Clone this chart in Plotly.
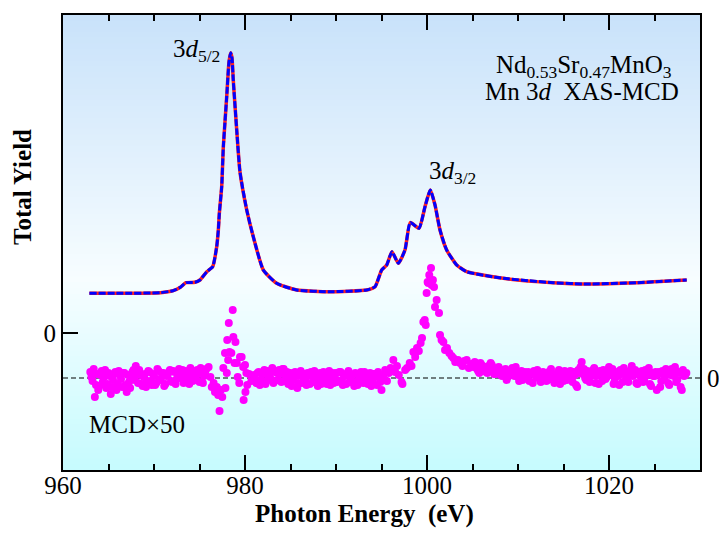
import plotly.graph_objects as go

# ---------------- data ----------------
# Total-yield XAS spectrum (arbitrary units, left axis)
xas_e = [962.9, 966.3, 970.7, 972.1, 972.9, 973.5, 974.5, 975.05, 975.8, 976.45,
         976.89, 977.07, 977.18, 977.44, 977.62, 977.99, 978.24, 978.43, 978.57, 978.71,
         979.09, 979.45, 980.19, 980.91, 982.01, 983.48, 985.68, 989.34, 993.37, 994.29,
         995.02, 995.57, 996.15, 996.85, 997.58, 998.16, 999.12, 999.78, 1000.36, 1000.88,
         1001.43, 1002.16, 1003.26, 1004.36, 1008.38, 1013.88, 1017.55, 1023.05, 1028.54]
xas_y = [0.397, 0.397, 0.403, 0.423, 0.457, 0.503, 0.507, 0.53, 0.613, 0.663,
         0.863, 1.03, 1.197, 1.463, 1.863, 2.363, 2.71, 2.803, 2.75, 2.53,
         2.03, 1.61, 1.23, 0.963, 0.63, 0.497, 0.43, 0.413, 0.43, 0.463,
         0.63, 0.68, 0.813, 0.697, 0.83, 1.105, 1.047, 1.263, 1.43, 1.28,
         1.03, 0.83, 0.68, 0.613, 0.547, 0.503, 0.49, 0.503, 0.53]

# MCD x50 (right axis), read segment by segment
mcd_e_a = [963.00, 963.25, 963.50, 963.75, 964.00, 964.25, 964.50, 964.75, 965.00, 965.25,
           965.50, 965.75, 966.00, 966.25, 966.50, 966.75, 967.00, 967.25, 967.50, 967.75,
           968.00, 968.25, 968.50, 968.75, 969.00, 969.25, 969.50, 969.75, 970.00, 970.25,
           970.50, 970.75, 971.00, 971.25, 971.50, 971.75, 972.00, 972.25, 972.50, 972.75,
           973.00, 973.25, 973.50, 973.75, 974.00, 974.25, 974.50, 974.75, 975.00, 975.25,
           975.50, 975.75]
mcd_v_a = [0.06, -0.03, -0.19, 0.04, -0.08, 0.07, 0.01, -0.10, 0.05, -0.16,
           -0.02, 0.06, -0.06, 0.03, -0.09, 0.05, -0.14, -0.04, 0.02, 0.08,
           0.12, -0.05, 0.03, -0.08, 0.04, -0.03, 0.06, -0.07, 0.02, -0.05,
           0.07, -0.02, 0.05, -0.06, 0.03, 0.08, -0.04, 0.06, -0.01, 0.09,
           0.02, -0.05, 0.07, 0.01, 0.10, -0.03, 0.05, 0.08, -0.04, 0.06,
           0.02, 0.09]
mcd_e_a2 = [963.125, 963.375, 963.625, 963.875, 964.125, 964.375, 964.625, 964.875, 965.125, 965.375,
            965.625, 965.875, 966.125, 966.375, 966.625, 966.875, 967.125, 967.375, 967.625, 967.875,
            968.125, 968.375, 968.625, 968.875, 969.125, 969.375, 969.625, 969.875, 970.125, 970.375,
            970.625, 970.875, 971.125, 971.375, 971.625, 971.875, 972.125, 972.375, 972.625, 972.875,
            973.125, 973.375, 973.625, 973.875, 974.125, 974.375, 974.625, 974.875, 975.125, 975.375,
            975.625]
mcd_v_a2 = [0.01, 0.09, -0.07, -0.12, 0.03, -0.04, 0.08, -0.06, 0.02, -0.09,
            0.04, -0.12, 0.07, -0.01, 0.05, -0.07, 0.03, -0.10, 0.06, -0.02,
            0.04, 0.08, -0.06, 0.01, -0.09, 0.07, -0.03, 0.04, -0.07, 0.09,
            -0.01, 0.05, -0.08, 0.02, 0.06, -0.03, 0.07, -0.06, 0.04, 0.01,
            0.08, -0.02, 0.05, -0.06, 0.03, 0.07, -0.02, 0.04, 0.10, -0.05,
            0.06]

mcd_e_b = [976.0, 976.2, 976.35, 976.55, 976.7, 976.9, 977.05, 977.2, 977.35, 977.5,
           977.62, 977.8, 977.85, 978.0, 978.05, 978.15, 978.22, 978.3, 978.5, 978.65,
           978.72, 978.85, 978.95, 979.1, 979.2, 979.37, 979.45, 979.63, 979.8, 979.85,
           980.0, 980.05, 980.15, 980.25, 980.45, 980.7]
mcd_v_b = [0.11, 0.01, -0.09, -0.05, -0.14, -0.09, -0.17, -0.33, -0.12, -0.19,
           0.10, 0.25, -0.10, 0.05, 0.38, 0.18, 0.55, 0.26, 0.25, 0.68,
           0.41, 0.15, 0.36, 0.15, 0.01, -0.05, 0.21, 0.21, 0.11, -0.22,
           0.13, -0.14, 0.05, -0.07, 0.04, -0.03]

mcd_e_c = [981.00, 981.25, 981.50, 981.75, 982.00, 982.25, 982.50, 982.75, 983.00, 983.25,
           983.50, 983.75, 984.00, 984.25, 984.50, 984.75, 985.00, 985.25, 985.50, 985.75,
           986.00, 986.25, 986.50, 986.75, 987.00, 987.25, 987.50, 987.75, 988.00, 988.25,
           988.50, 988.75, 989.00, 989.25, 989.50, 989.75, 990.00, 990.25, 990.50, 990.75,
           991.00, 991.25, 991.50, 991.75, 992.00, 992.25, 992.50, 992.75, 993.00, 993.25,
           993.50, 993.75, 994.00, 994.25, 994.50, 994.75]
mcd_v_c = [0.03, -0.05, 0.06, -0.02, 0.04, -0.06, 0.07, 0.01, 0.10, -0.03,
           0.05, 0.08, -0.04, 0.09, 0.02, -0.06, 0.05, -0.02, 0.06, -0.10,
           0.03, -0.05, 0.04, -0.07, 0.02, 0.06, -0.04, 0.03, -0.08, 0.05,
           -0.02, 0.04, -0.06, 0.07, 0.00, -0.05, 0.05, -0.03, 0.06, -0.07,
           0.02, 0.05, -0.04, 0.03, -0.08, 0.04, -0.02, 0.06, -0.05, 0.03,
           -0.06, 0.05, -0.03, 0.04, -0.07, 0.02]
mcd_e_c2 = [981.125, 981.375, 981.625, 981.875, 982.125, 982.375, 982.625, 982.875, 983.125, 983.375,
            983.625, 983.875, 984.125, 984.375, 984.625, 984.875, 985.125, 985.375, 985.625, 985.875,
            986.125, 986.375, 986.625, 986.875, 987.125, 987.375, 987.625, 987.875, 988.125, 988.375,
            988.625, 988.875, 989.125, 989.375, 989.625, 989.875, 990.125, 990.375, 990.625, 990.875,
            991.125, 991.375, 991.625, 991.875, 992.125, 992.375, 992.625, 992.875, 993.125, 993.375,
            993.625, 993.875, 994.125, 994.375, 994.625, 994.875]
mcd_v_c2 = [-0.02, 0.05, -0.07, 0.04, 0.08, -0.03, 0.02, 0.06, -0.05, 0.07,
            -0.02, 0.04, 0.09, -0.03, 0.06, 0.01, -0.08, 0.04, 0.02, -0.05,
            0.07, 0.01, -0.03, 0.05, -0.06, 0.02, 0.07, -0.02, 0.04, -0.06,
            0.06, -0.01, 0.03, -0.07, 0.05, 0.02, -0.04, 0.06, -0.02, 0.03,
            -0.06, 0.07, 0.00, -0.04, 0.05, -0.07, 0.03, -0.01, 0.06, -0.04,
            0.02, -0.08, 0.04, 0.01, 0.06, -0.04]

mcd_e_d = [995.0, 995.2, 995.4, 995.6, 995.8, 996.0, 996.3, 996.5, 996.7, 996.9,
           997.2, 997.3, 997.6, 997.8, 998.1, 998.3, 998.5, 998.7, 998.9, 999.1,
           999.3, 999.45, 999.6, 999.75, 999.86, 999.96, 1000.07, 1000.14, 1000.25, 1000.44,
           1000.51, 1000.65, 1000.77, 1000.88, 1001.06, 1001.32, 1001.43, 1001.6, 1001.8, 1001.98,
           1002.2, 1002.45, 1002.7, 1002.89, 1003.1, 1003.4, 1003.63, 1003.9, 1004.1, 1004.36,
           1004.6, 1004.85, 1005.09]
mcd_v_d = [-0.12, 0.02, 0.08, -0.03, 0.05, 0.10, 0.18, 0.06, 0.12, 0.03,
           -0.04, -0.06, 0.08, 0.10, 0.15, 0.12, 0.26, 0.21, 0.30, 0.27,
           0.35, 0.40, 0.56, 0.58, 0.53, 0.85, 0.96, 0.95, 1.03, 1.10,
           0.93, 0.98, 0.91, 0.71, 0.78, 0.65, 0.43, 0.38, 0.36, 0.28,
           0.30, 0.25, 0.22, 0.20, 0.16, 0.18, 0.15, 0.12, 0.17, 0.18,
           0.10, 0.14, 0.11]

mcd_e_e = [1005.25, 1005.50, 1005.75, 1006.00, 1006.25, 1006.50, 1006.75, 1007.00, 1007.25, 1007.50,
           1007.75, 1008.00, 1008.25, 1008.50, 1008.75, 1009.00, 1009.25, 1009.50, 1009.75, 1010.00,
           1010.25, 1010.50, 1010.75, 1011.00, 1011.25, 1011.50, 1011.75, 1012.00, 1012.25, 1012.50,
           1012.75, 1013.00, 1013.25, 1013.50, 1013.75, 1014.00, 1014.25, 1014.50, 1014.75, 1015.00,
           1015.25, 1015.50, 1015.75, 1016.00, 1016.25, 1016.50, 1016.75, 1017.00, 1017.25, 1017.50,
           1017.75, 1018.00, 1018.25, 1018.50, 1018.75, 1019.00, 1019.25, 1019.50, 1019.75, 1020.00,
           1020.25, 1020.50, 1020.75, 1021.00, 1021.25, 1021.50, 1021.75, 1022.00, 1022.25, 1022.50,
           1022.75, 1023.00, 1023.25, 1023.50, 1023.75, 1024.00, 1024.25, 1024.50, 1024.75, 1025.00,
           1025.25, 1025.50, 1025.75, 1026.00, 1026.25, 1026.50, 1026.75, 1027.00, 1027.25, 1027.50,
           1027.75, 1028.00, 1028.25, 1028.50]
mcd_v_e = [0.16, 0.09, 0.05, 0.13, 0.10, 0.06, 0.12, 0.15, 0.07, 0.04,
           0.10, 0.06, 0.02, 0.08, -0.02, 0.05, 0.03, 0.07, 0.11, 0.01,
           0.04, -0.02, 0.06, 0.02, -0.03, 0.05, 0.07, 0.01, 0.04, -0.04,
           0.06, 0.02, -0.02, 0.05, 0.03, -0.05, 0.04, 0.08, 0.01, -0.03,
           0.05, 0.02, 0.07, -0.04, 0.03, -0.09, 0.05, 0.16, 0.09, -0.02,
           0.06, 0.02, 0.08, -0.05, 0.04, 0.07, -0.03, 0.05, 0.01, 0.11,
           0.03, -0.06, 0.06, 0.02, 0.08, -0.04, 0.05, 0.00, 0.07, 0.12,
           0.03, -0.05, 0.06, 0.01, -0.04, 0.08, 0.03, -0.06, 0.05, 0.02,
           -0.12, 0.06, -0.03, 0.04, 0.09, -0.05, 0.03, 0.07, 0.11, -0.02,
           0.05, -0.12, 0.02, 0.05]
mcd_e_e2 = [1005.375, 1005.625, 1005.875, 1006.125, 1006.375, 1006.625, 1006.875, 1007.125, 1007.375, 1007.625,
            1007.875, 1008.125, 1008.375, 1008.625, 1008.875, 1009.125, 1009.375, 1009.625, 1009.875, 1010.125,
            1010.375, 1010.625, 1010.875, 1011.125, 1011.375, 1011.625, 1011.875, 1012.125, 1012.375, 1012.625,
            1012.875, 1013.125, 1013.375, 1013.625, 1013.875, 1014.125, 1014.375, 1014.625, 1014.875, 1015.125,
            1015.375, 1015.625, 1015.875, 1016.125, 1016.375, 1016.625, 1016.875, 1017.125, 1017.375, 1017.625,
            1017.875, 1018.125, 1018.375, 1018.625, 1018.875, 1019.125, 1019.375, 1019.625, 1019.875, 1020.125,
            1020.375, 1020.625, 1020.875, 1021.125, 1021.375, 1021.625, 1021.875, 1022.125, 1022.375, 1022.625,
            1022.875, 1023.125, 1023.375, 1023.625, 1023.875, 1024.125, 1024.375, 1024.625, 1024.875, 1025.125,
            1025.375, 1025.625, 1025.875, 1026.125, 1026.375, 1026.625, 1026.875, 1027.125, 1027.375, 1027.625,
            1027.875, 1028.125, 1028.375]
mcd_v_e2 = [0.12, 0.07, 0.15, 0.08, 0.11, 0.05, 0.09, 0.13, 0.04, 0.08,
            0.11, 0.03, 0.06, 0.09, 0.01, 0.06, 0.10, 0.02, 0.05, -0.03,
            0.07, 0.03, 0.00, 0.06, 0.04, -0.05, 0.03, 0.08, -0.01, 0.05,
            0.02, -0.03, 0.06, 0.09, -0.02, 0.04, 0.01, -0.06, 0.05, 0.07,
            -0.02, 0.04, 0.01, 0.06, -0.07, 0.08, 0.11, 0.04, 0.00, 0.07,
            -0.04, 0.05, 0.10, 0.02, -0.06, 0.04, 0.08, -0.01, 0.06, 0.03,
            0.09, -0.03, 0.05, -0.07, 0.04, 0.10, 0.01, -0.04, 0.06, 0.02,
            0.08, -0.06, 0.03, 0.07, -0.02, 0.05, 0.10, -0.08, 0.02, 0.06,
            0.04, -0.09, 0.07, 0.01, 0.05, -0.07, 0.09, 0.02, -0.04, 0.06,
            -0.09, 0.08, 0.03]

x_ticks = [960, 980, 1000, 1020]
x_range = [960, 1030]
y_range = [-1.37, 3.18]
y2_range = [-0.92, 3.63]

segments = [(mcd_e_a, mcd_v_a), (mcd_e_a2, mcd_v_a2), (mcd_e_b, mcd_v_b),
            (mcd_e_c, mcd_v_c), (mcd_e_c2, mcd_v_c2), (mcd_e_d, mcd_v_d),
            (mcd_e_e, mcd_v_e), (mcd_e_e2, mcd_v_e2)]
mcd_e, mcd_v = [], []
for e, v in segments:
    n = min(len(e), len(v))
    mcd_e += e[:n]
    mcd_v += v[:n]

SERIF = "Liberation Serif, Times New Roman, serif"
FONT = dict(family=SERIF, size=25, color="black")

fig = go.Figure()

# MCD points
fig.add_trace(go.Scatter(x=mcd_e, y=mcd_v, mode="markers", yaxis="y2",
                         marker=dict(color="#ff00ff", size=8, line=dict(width=0)),
                         showlegend=False, hoverinfo="skip"))
# XAS: red solid under blue dashed
fig.add_trace(go.Scatter(x=xas_e, y=xas_y, mode="lines",
                         line=dict(color="#ff2020", width=3.5, shape="spline", smoothing=0.5),
                         showlegend=False, hoverinfo="skip"))
fig.add_trace(go.Scatter(x=xas_e, y=xas_y, mode="lines",
                         line=dict(color="#0000ff", width=3, dash="7px,2px", shape="spline", smoothing=0.5),
                         showlegend=False, hoverinfo="skip"))

# background gradient (blue top -> white -> cyan bottom)
stops = [(0.0, (198, 251, 254)), (0.42, (247, 253, 255)), (1.0, (201, 226, 250))]
def col(t):
    for (t0, c0), (t1, c1) in zip(stops[:-1], stops[1:]):
        if t0 <= t <= t1:
            f = (t - t0) / (t1 - t0)
            return "rgb(%d,%d,%d)" % tuple(round(a + (b - a) * f) for a, b in zip(c0, c1))
    return "rgb(%d,%d,%d)" % stops[-1][1]

shapes = []
N = 80
for i in range(N):
    shapes.append(dict(type="rect", xref="paper", yref="paper", x0=0, x1=1,
                       y0=i / N, y1=min(1, (i + 1) / N + 0.002), fillcolor=col((i + 0.5) / N),
                       line=dict(width=0), layer="below"))
# MCD zero dashed line
shapes.append(dict(type="line", xref="paper", yref="y2", x0=0, x1=1, y0=0, y1=0,
                   line=dict(color="black", width=1, dash="5px,3px"), layer="below"))

def ann(text, x, y, **kw):
    d = dict(text=text, x=x, y=y, xref="paper", yref="paper", showarrow=False,
             xanchor="center", yanchor="middle", font=FONT)
    d.update(kw)
    return d

annotations = [
    ann("3<i>d</i><sub>5/2</sub>", 0.2100, 0.921),
    ann("3<i>d</i><sub>3/2</sub>", 0.6120, 0.653),
    ann("Nd<sub>0.53</sub>Sr<sub>0.47</sub>MnO<sub>3</sub>", 0.818, 0.886),
    ann("Mn 3<i>d</i>&nbsp; XAS-MCD", 0.815, 0.831),
    ann("MCD×50", 0.0377, 0.099, xanchor="left"),
    ann("<b>Photon Energy&nbsp; (eV)</b>", 0.474, -0.0967),
    ann("<b>Total Yield</b>", -0.0628, 0.622, textangle=-90),
]

fig.update_layout(
    width=719, height=533, autosize=False,
    margin=dict(l=63, r=19, t=15, b=63, autoexpand=False),
    paper_bgcolor="white", plot_bgcolor="white",
    shapes=shapes, annotations=annotations,
    xaxis=dict(range=x_range, tickvals=x_ticks, ticks="inside", ticklen=15, tickwidth=2,
               tickcolor="black", showline=True, linewidth=2, linecolor="black",
               mirror="ticks", showgrid=False, zeroline=False, tickfont=FONT,
               ticklabelstandoff=-8, automargin=False,
               minor=dict(dtick=5, tick0=960, ticks="inside", ticklen=6, tickwidth=2,
                          tickcolor="black", showgrid=False)),
    yaxis=dict(range=y_range, tickvals=[0], ticktext=["0"], ticks="inside", ticklen=15,
               tickwidth=2, tickcolor="black", showline=True, linewidth=2, linecolor="black",
               mirror=True, showgrid=False, zeroline=False, tickfont=FONT, automargin=False),
    yaxis2=dict(range=y2_range, overlaying="y", side="right", tickvals=[0], ticktext=["0"],
                ticks="", showline=False, showgrid=False, zeroline=False, tickfont=FONT,
                ticklabelstandoff=6, automargin=False),
)

fig.write_html("out.html", config={"displayModeBar": False},
               post_script="document.body.style.margin='0';document.body.style.overflow='hidden';")
